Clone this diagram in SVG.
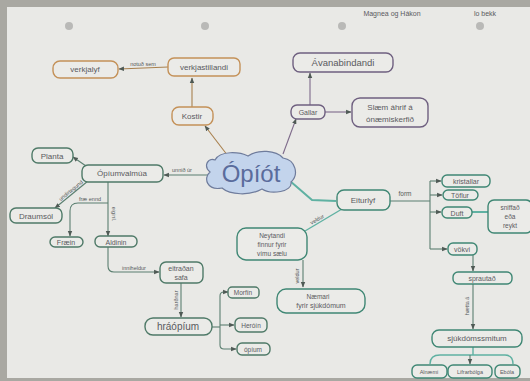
<svg xmlns="http://www.w3.org/2000/svg" width="530" height="381" viewBox="0 0 530 381">
<defs>
<style>
.bg{fill:#a9a8a2}
.paper{fill:#e9e9e6}
.hole{fill:#b9b9b7}
.n rect,.n path{fill:#ebebe8;stroke-width:1.4}
.o rect{stroke:#c49158}
.p rect{stroke:#6f6080}
.g rect,.g path{stroke:#4f7a68}
.t rect,.t path{stroke:#3f8774}
text{font-family:"Liberation Sans",Arial,sans-serif;fill:#5a5a5e;text-anchor:middle}
.n text{font-size:8px}
.lab{font-size:5.5px;fill:#55595a}
.e{fill:none;stroke-width:1.1}
.eo{stroke:#a8804e}
.ep{stroke:#7e6a8a}
.eg{stroke:#5b7f70}
.et{stroke:#5fb1a2;stroke-width:2}
</style>
<marker id="ag" viewBox="0 0 10 10" refX="9" refY="5" markerWidth="5" markerHeight="5" orient="auto"><path d="M0,1 L10,5 L0,9 Z" fill="#4f5a55"/></marker>
</defs>
<rect class="bg" x="0" y="0" width="530" height="381"/>
<rect class="paper" x="7" y="7" width="523" height="371"/>
<circle class="hole" cx="69" cy="26" r="4"/>
<circle class="hole" cx="205" cy="26" r="4"/>
<circle class="hole" cx="342" cy="26" r="4"/>
<circle class="hole" cx="480" cy="26" r="4"/>
<text x="392" y="16" style="font-size:7px">Magnea  og  Hákon</text>
<text x="485" y="16" style="font-size:7px">lo bekk</text>

<g id="connectors">
<path class="e eo" d="M228,156 L205,126" marker-end="url(#ag)"/>
<path class="e eo" d="M192,107 L192,78" marker-end="url(#ag)"/>
<path class="e eo" d="M168,67 L119,69" marker-end="url(#ag)"/>
<text class="lab" x="143" y="66">notuð sem</text>
<path class="e ep" d="M283,154 L296,119" marker-end="url(#ag)"/>
<path class="e ep" d="M310,105 L310,73" marker-end="url(#ag)"/>
<path class="e ep" d="M325,112 L351,112" marker-end="url(#ag)"/>
<path class="e eg" d="M208,175 L164,175" marker-end="url(#ag)"/>
<text class="lab" x="182" y="172">unnið úr</text>
<path class="e eg" d="M86,166 L73,157" marker-end="url(#ag)"/>
<path class="e eg" d="M88,181 L55,208" marker-end="url(#ag)"/>
<text class="lab" x="72" y="192" transform="rotate(-39 72 192)">undirtegund</text>
<path class="e eg" d="M108,182 L108,236" marker-end="url(#ag)"/>
<text class="lab" x="112" y="214" transform="rotate(90 112 214)">eiginl.</text>
<path class="e eg" d="M108,203 L78,203 Q70,203 70,211 L70,236" marker-end="url(#ag)"/>
<text class="lab" x="90" y="201">fræ ennd</text>
<path class="e eg" d="M108,247 L108,266 Q108,272 114,272 L159,272" marker-end="url(#ag)"/>
<text class="lab" x="134" y="270">inniheldur</text>
<path class="e eg" d="M181,283 L181,317" marker-end="url(#ag)"/>
<text class="lab" x="178" y="300" transform="rotate(-90 178 300)">harðnar</text>
<path class="e eg" d="M212,327 L220,327"/>
<path class="e eg" d="M220,327 L220,296 Q220,292 224,292 L228,292" marker-end="url(#ag)"/>
<path class="e eg" d="M220,325 L234,325" marker-end="url(#ag)"/>
<path class="e eg" d="M220,327 L220,345 Q220,349 224,349 L236,349" marker-end="url(#ag)"/>
<path class="e et" d="M290,181 L312,200 L336,201"/>
<path class="e eg" d="M390,201 L430,201"/>
<text class="lab" x="405" y="196" style="font-size:6.5px">form</text>
<path class="e eg" d="M430,181 L430,249"/>
<path class="e eg" d="M430,181 L441,181" marker-end="url(#ag)"/>
<path class="e eg" d="M430,195 L442,195" marker-end="url(#ag)"/>
<path class="e eg" d="M430,212 L441,212" marker-end="url(#ag)"/>
<path class="e eg" d="M430,249 L447,249" marker-end="url(#ag)"/>
<path class="e et" d="M472,212 L488,212"/>
<path class="e et" d="M342,209 L305,231" style="stroke-width:1.4"/>
<text class="lab" x="318" y="221" transform="rotate(-30 318 221)">veldur</text>
<path class="e eg" d="M303,260 L303,287" marker-end="url(#ag)"/>
<text class="lab" x="299" y="276" transform="rotate(-90 299 276)">veldur</text>
<path class="e eg" d="M473,255 L473,271" marker-end="url(#ag)"/>
<path class="e eg" d="M473,283 L473,329" marker-end="url(#ag)"/>
<text class="lab" x="469" y="306" transform="rotate(-90 469 306)">hætta á</text>
<path class="e et" d="M473,347 L473,355" style="stroke-width:1.4"/>
<path class="e et" d="M430,364 Q430,355 440,355 L505,355 Q513,355 513,364" style="stroke-width:1.4"/>
<path class="e eg" d="M470,355 L470,364" marker-end="url(#ag)"/>
</g>

<g id="opiot">
<path d="M215,160 C220,150 240,152 248,156 C258,149 276,150 283,158 C296,160 299,175 291,182 C293,192 271,195 262,189 C250,196 230,195 222,188 C207,191 203,178 210,172 C203,166 208,157 215,160 Z" fill="#c3d4ec" stroke="#6f7c9c" stroke-width="1.2"/>
<text x="251" y="182" style="font-size:24px;fill:#5a6c9c">Ópíót</text>
</g>
<g id="verkjalyf" class="n o"><rect x="53" y="61" width="65" height="17" rx="7"/><text x="85" y="72">verkjalyf</text></g>
<g id="verkjastillandi" class="n o"><rect x="168" y="58" width="72" height="18" rx="6"/><text x="204" y="70">verkjastillandi</text></g>
<g id="kostir" class="n o"><rect x="172" y="107" width="41" height="18" rx="7"/><text x="192" y="119">Kostir</text></g>
<g id="avanabindandi" class="n p"><rect x="293" y="53" width="100" height="19" rx="7"/><text x="343" y="66" style="font-size:9.5px">Ávanabindandi</text></g>
<g id="gallar" class="n p"><rect x="291" y="105" width="34" height="14" rx="6"/><text x="308" y="115" style="font-size:7px">Gallar</text></g>
<g id="slaem" class="n p"><rect x="352" y="98" width="76" height="29" rx="8"/><text x="390" y="110">Slæm áhrif á</text><text x="390" y="122">ónæmiskerfið</text></g>
<g id="planta" class="n g"><rect x="32" y="148" width="41" height="15" rx="6"/><text x="52" y="159">Planta</text></g>
<g id="opiumvalmua" class="n g"><rect x="82" y="165" width="81" height="17" rx="6"/><text x="122" y="176">Ópíumvalmúa</text></g>
<g id="draumsol" class="n g"><rect x="10" y="208" width="52" height="15" rx="6"/><text x="36" y="219">Draumsól</text></g>
<g id="fraein" class="n g"><rect x="50" y="237" width="33" height="10" rx="5"/><text x="66" y="245" style="font-size:7px">Fræin</text></g>
<g id="aldinin" class="n g"><rect x="95" y="236" width="42" height="11" rx="5"/><text x="116" y="244.5" style="font-size:7px">Aldinin</text></g>
<g id="eitradan" class="n g"><rect x="160" y="262" width="43" height="21" rx="6"/><text x="181" y="271" style="font-size:7px">eitraðan</text><text x="181" y="280" style="font-size:7px">safa</text></g>
<g id="hraopium" class="n g"><rect x="145" y="318" width="67" height="17" rx="8"/><text x="178" y="330" style="font-size:10px">hráópíum</text></g>
<g id="morfin" class="n g"><rect x="228" y="287" width="31" height="11" rx="4"/><text x="243" y="295" style="font-size:6.5px">Morfín</text></g>
<g id="heroin" class="n g"><rect x="235" y="318" width="32" height="14" rx="5"/><text x="251" y="328" style="font-size:6.5px">Heróín</text></g>
<g id="opium" class="n g"><rect x="237" y="343" width="33" height="12" rx="5"/><text x="253" y="352" style="font-size:6.5px">ópíum</text></g>
<g id="eiturlyf" class="n t"><rect x="337" y="190" width="53" height="20" rx="7"/><text x="363" y="203">Eiturlyf</text></g>
<g id="kristallar" class="n t"><rect x="442" y="175" width="48" height="12" rx="5"/><text x="466" y="184" style="font-size:7px">kristallar</text></g>
<g id="toflur" class="n t"><rect x="443" y="190" width="35" height="10" rx="5"/><text x="460" y="198" style="font-size:7px">Töflur</text></g>
<g id="duft" class="n t"><rect x="442" y="207" width="30" height="11" rx="5"/><text x="457" y="215.5" style="font-size:7px">Duft</text></g>
<g id="sniffad" class="n t"><rect x="488" y="200" width="44" height="33" rx="6"/><text x="510" y="210" style="font-size:6.5px">sniffað</text><text x="510" y="219" style="font-size:6.5px">eða</text><text x="510" y="228" style="font-size:6.5px">reykt</text></g>
<g id="vokvi" class="n t"><rect x="448" y="243" width="29" height="12" rx="5"/><text x="462" y="252" style="font-size:7px">vökvi</text></g>
<g id="neytandi" class="n t"><rect x="237" y="228" width="70" height="32" rx="9"/><text x="272" y="238" style="font-size:6.5px">Neytandi</text><text x="272" y="247" style="font-size:6.5px">finnur fyrir</text><text x="272" y="256" style="font-size:6.5px">vímu sælu</text></g>
<g id="naemari" class="n t"><rect x="277" y="289" width="88" height="24" rx="9"/><text x="318" y="299" style="font-size:6.5px">Næmari</text><text x="321" y="308" style="font-size:7px">fyrir sjúkdómum</text></g>
<g id="sprautad" class="n t"><rect x="453" y="272" width="59" height="12" rx="5"/><text x="482" y="281" style="font-size:7px">sprautað</text></g>
<g id="sjukdoms" class="n t"><rect x="432" y="330" width="90" height="17" rx="7"/><text x="477" y="341">sjúkdómssmitum</text></g>
<g id="s1" class="n t"><rect x="412" y="365" width="35" height="13" rx="5"/><text x="429" y="374" style="font-size:5.5px">Alnæmi</text></g>
<g id="s2" class="n t"><rect x="448" y="365" width="44" height="13" rx="5"/><text x="470" y="374" style="font-size:5.5px">Lifrarbólga</text></g>
<g id="s3" class="n t"><rect x="495" y="365" width="25" height="13" rx="5"/><text x="507" y="374" style="font-size:5.5px">Ebóla</text></g>
</svg>
